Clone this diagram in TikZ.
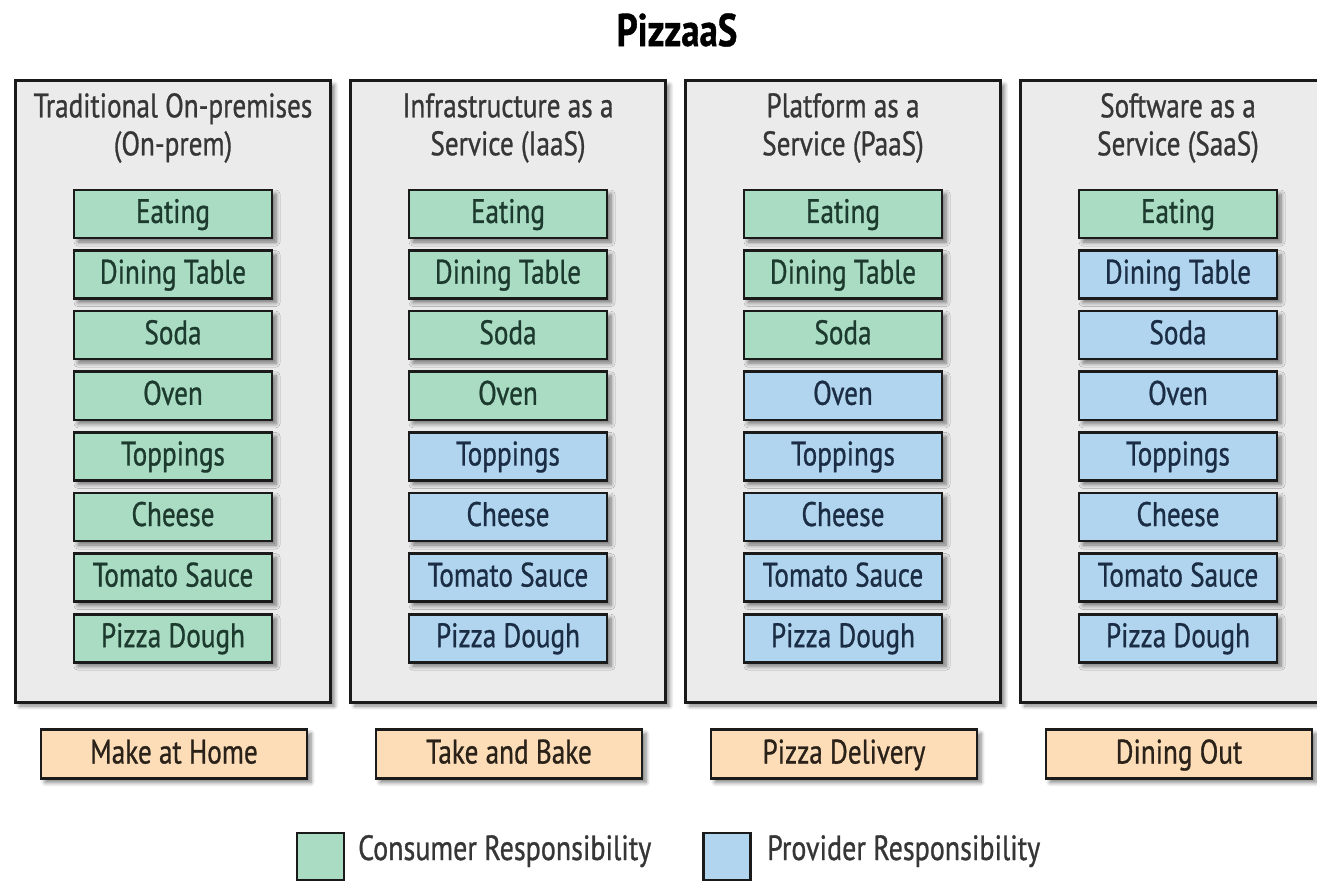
\documentclass[tikz,border=0pt]{standalone}
\usepackage{fontspec}
\setmainfont{PT Sans}[FakeStretch=0.8, FakeBold=0.8]
\usetikzlibrary{shadows.blur}

\definecolor{linec}{HTML}{1A1A1A}
\definecolor{panelc}{HTML}{EBEBEB}
\definecolor{consc}{HTML}{A9DCC3}
\definecolor{provc}{HTML}{B1D5EE}
\definecolor{scenc}{HTML}{FCDDB8}
\definecolor{constext}{HTML}{1D3A2E}
\definecolor{provtext}{HTML}{1B2D44}
\definecolor{scentext}{HTML}{2A2119}
\definecolor{headtext}{HTML}{363636}

\tikzset{
  softshadow/.style={blur shadow={shadow xshift=4pt, shadow yshift=-4pt,
      shadow blur steps=6, shadow blur radius=4pt, shadow opacity=50}},
  boxtext/.style={font=\fontsize{34}{38}\selectfont, text height=24pt, text depth=6pt},
  panel/.style={draw=linec, line width=3pt, fill=panelc, softshadow,
      minimum width=315pt, minimum height=621pt, inner sep=0pt},
  item/.style={draw=linec, line width=2.6pt, softshadow, boxtext,
      minimum width=198pt, minimum height=48pt, inner sep=0pt},
  cons/.style={item, fill=consc, text=constext},
  prov/.style={item, fill=provc, text=provtext},
  scen/.style={draw=linec, line width=2.6pt, fill=scenc, text=scentext, softshadow,
      boxtext, text height=25pt, minimum width=266pt, minimum height=49pt, inner sep=0pt},
  head/.style={align=center, text=headtext, inner sep=0pt,
      font=\fontsize{34}{38}\selectfont},
  legendbox/.style={draw=linec, line width=2.6pt, minimum width=47pt,
      minimum height=47pt, inner sep=0pt},
  legendtext/.style={anchor=west, text=headtext, inner sep=0pt,
      font=\fontsize{35}{38}\selectfont, text height=25pt, text depth=7pt},
}

\begin{document}
\begin{tikzpicture}[x=1pt, y=-1pt]
\useasboundingbox (0,0) rectangle (1317,882);

\node[font=\fontsize{46}{50}\selectfont\bfseries, inner sep=0pt] (title) at (677,30) {PizzaaS};

% four service models: column index / centre x / first provider row / heading / everyday analogue
\foreach \c/\cx/\split/\heading/\scenario in {
    1/173/9/{Traditional On-premises\\(On-prem)}/Make at Home,
    2/508/5/{Infrastructure as a\\Service (IaaS)}/Take and Bake,
    3/843/4/{Platform as a\\Service (PaaS)}/Pizza Delivery,
    4/1178/2/{Software as a\\Service (SaaS)}/Dining Out} {
  \node[panel] (panel\c) at (\cx,391.5) {};
  \node[head] (head\c) at (\cx,128) {\heading};
  \foreach \lbl [count=\r] in {Eating,Dining Table,Soda,Oven,Toppings,Cheese,Tomato Sauce,Pizza Dough} {
    \ifnum\r<\split \def\kind{cons}\else\def\kind{prov}\fi
    \node[\kind] (item\c-\r) at (\cx,{214+60.6*(\r-1)}) {\lbl};
  }
  \node[scen] (scen\c) at ({\cx+1},754) {\scenario};
}

% legend
\node[legendbox, fill=consc] (legcons) at (320.5,856.5) {};
\node[legendtext] (legconstext) at (358,851) {Consumer Responsibility};
\node[legendbox, fill=provc] (legprov) at (727,856.5) {};
\node[legendtext] (legprovtext) at (767,851) {Provider Responsibility};
\end{tikzpicture}
\end{document}
